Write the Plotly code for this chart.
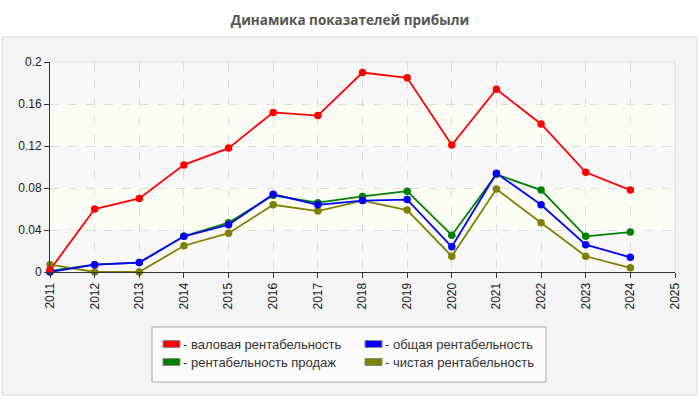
import plotly.graph_objects as go

years = list(range(2011, 2025))
gross = [0.002, 0.060, 0.070, 0.102, 0.118, 0.152, 0.149, 0.190, 0.185, 0.121, 0.174, 0.141, 0.095, 0.078]
total = [0.000, 0.007, 0.009, 0.034, 0.045, 0.074, 0.064, 0.068, 0.069, 0.024, 0.094, 0.064, 0.026, 0.014]
sales = [0.001, 0.007, 0.009, 0.034, 0.047, 0.073, 0.066, 0.072, 0.077, 0.035, 0.093, 0.078, 0.034, 0.038]
net = [0.007, 0.000, 0.000, 0.025, 0.037, 0.064, 0.058, 0.068, 0.059, 0.015, 0.079, 0.047, 0.015, 0.004]

names = ["валовая рентабельность", "общая рентабельность", "рентабельность продаж", "чистая рентабельность"]
colors = ["#ff0000", "#0000ff", "#008000", "#808000"]
series = [gross, total, sales, net]

y_ticks = [0, 0.04, 0.08, 0.12, 0.16, 0.2]
y_labels = ["0", "0.04", "0.08", "0.12", "0.16", "0.2"]
x_ticks = list(range(2011, 2026))

W, H = 700, 400
L, R, T, B = 50, 25, 62, 128
PW, PH = W - L - R, H - T - B


def px(x):
    return (x - L) / PW


def py(y):
    return (H - B - y) / PH


fig = go.Figure()
draw_order = [2, 3, 1, 0]
for i in draw_order:
    fig.add_trace(go.Scatter(
        x=years, y=series[i], name=names[i], mode="lines+markers",
        line=dict(color=colors[i], width=1.8),
        marker=dict(color=colors[i], size=7.5),
        showlegend=False, cliponaxis=False,
    ))

shapes = []
# panel
shapes.append(dict(type="rect", xref="paper", yref="paper", x0=px(2), x1=px(697), y0=py(395), y1=py(37),
                   fillcolor="#f4f4f4", line=dict(color="#dcdcdc", width=1), layer="below"))
# bands
for k in range(5):
    shapes.append(dict(type="rect", xref="x domain", yref="y", x0=0, x1=1,
                       y0=y_ticks[k], y1=y_ticks[k + 1],
                       fillcolor="#f8f8f8" if k % 2 == 0 else "#fcfdf5", line=dict(width=0), layer="below"))
# plot border top/right
shapes.append(dict(type="line", xref="paper", yref="paper", x0=0, x1=1, y0=1, y1=1, line=dict(color="#dddddd", width=1)))
shapes.append(dict(type="line", xref="paper", yref="paper", x0=1, x1=1, y0=0, y1=1, line=dict(color="#d6d6d6", width=1)))
# legend box
shapes.append(dict(type="rect", xref="paper", yref="paper", x0=px(152), x1=px(546), y0=py(382), y1=py(327),
                   fillcolor="#fbfbfb", line=dict(color="#aaaaaa", width=1)))

annotations = []
legend_pos = [(163, 344), (365, 344), (163, 362), (365, 362)]
for (lx, ly), nm, c in zip(legend_pos, names, colors):
    shapes.append(dict(type="rect", xref="paper", yref="paper", x0=px(lx), x1=px(lx + 17),
                       y0=py(ly + 3.5), y1=py(ly - 3.5), fillcolor=c, line=dict(color="#888888", width=1)))
    annotations.append(dict(xref="paper", yref="paper", x=px(lx + 18), y=py(ly), text="- " + nm,
                            showarrow=False, xanchor="left", yanchor="middle",
                            font=dict(family="Liberation Sans, Arial", size=13, color="#333333")))

fig.update_layout(
    width=W, height=H,
    margin=dict(l=L, r=R, t=T, b=B),
    paper_bgcolor="#ffffff", plot_bgcolor="rgba(0,0,0,0)",
    title=dict(text="<b>Динамика показателей прибыли</b>", x=0.5, xref="container", y=1 - 20 / H,
               yanchor="middle", xanchor="center",
               font=dict(family="Open Sans, Noto Sans", size=13.5, color="#555555")),
    shapes=shapes, annotations=annotations,
    showlegend=False,
    xaxis=dict(range=[2011, 2025], tickvals=x_ticks, ticktext=[str(v) for v in x_ticks],
               tickangle=-90, showline=True, linecolor="#333333", linewidth=1,
               ticks="outside", ticklen=5, tickcolor="#333333",
               showgrid=True, gridcolor="#dddddd", griddash="dash", gridwidth=1, zeroline=False,
               tickfont=dict(family="Liberation Sans, Arial", size=12, color="#222222")),
    yaxis=dict(range=[0, 0.2], tickvals=y_ticks, ticktext=y_labels,
               showline=True, linecolor="#333333", linewidth=1,
               ticks="outside", ticklen=5, tickcolor="#333333",
               showgrid=True, gridcolor="#dddddd", griddash="dash", gridwidth=1, zeroline=False,
               tickfont=dict(family="Liberation Sans, Arial", size=12, color="#222222")),
)

fig.write_html("out.html")
